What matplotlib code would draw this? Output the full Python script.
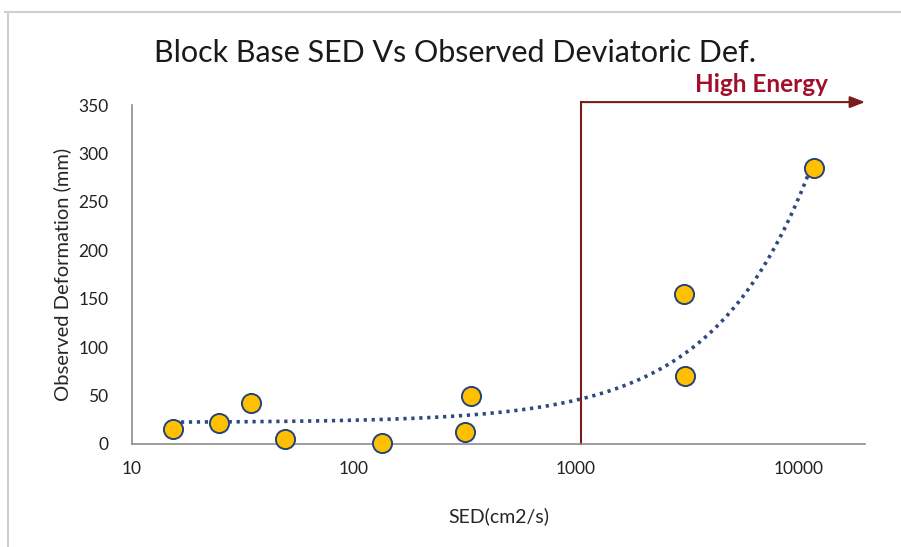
import numpy as np
import matplotlib
matplotlib.use("Agg")
import matplotlib.pyplot as plt
from matplotlib.lines import Line2D

# Data
sed = [15.3, 24.7, 34.3, 49.0, 133.6, 315, 337, 3050, 3090, 11830]
deformation = [15.5, 21.4, 42.6, 5.5, 0.7, 12.1, 49.9, 154.6, 70.2, 285.3]
x_ticks = [10, 100, 1000, 10000]
x_tick_labels = ["10", "100", "1000", "10000"]
y_ticks = [0, 50, 100, 150, 200, 250, 300, 350]
high_energy_x = 1056
high_energy_y = 353

title = "Block Base SED Vs Observed Deviatoric Def."
xlabel = "SED(cm2/s)"
ylabel = "Observed Deformation (mm)"

plt.rcParams['font.family'] = ['Lato', 'DejaVu Sans']

W, H = 901, 547
fig = plt.figure(figsize=(W / 100, H / 100), dpi=100)
ax = fig.add_axes([132 / W, 1 - 444 / H, (865 - 132) / W, (444 - 105) / H])

x = np.array(sed)
y = np.array(deformation)

# Linear trendline (Excel-style) drawn on the log x axis
b, a = np.polyfit(x, y, 1)
xt = np.logspace(np.log10(x.min()), np.log10(x.max()), 300)
ax.plot(xt, a + b * xt, color='#2E4B7F', lw=2.6, linestyle=(0, (0.9, 1.3)),
        dash_capstyle='butt', zorder=2)

ax.scatter(x, y, s=190, facecolor='#FFC000', edgecolor='#264478', linewidth=1.4,
           zorder=3, clip_on=False)

ax.set_xscale('log')
ax.set_xlim(10, 20000)
ax.set_ylim(0, 350)
ax.set_xticks(x_ticks)
ax.set_xticklabels(x_tick_labels)
ax.set_yticks(y_ticks)
ax.minorticks_off()
ax.tick_params(length=0, labelsize=12.5, colors='#222222', pad=12)
ax.tick_params(axis='y', pad=17)

for side in ['top', 'right']:
    ax.spines[side].set_visible(False)
for side in ['left', 'bottom']:
    ax.spines[side].set_color('#8C8C8C')
    ax.spines[side].set_linewidth(1.2)

ax.set_xlabel(xlabel, fontsize=14, color='#262626', labelpad=22)
ax.set_ylabel(ylabel, fontsize=14.5, color='#262626', labelpad=5)

fig.text(455 / W, 1 - 53 / H, title, fontsize=22, color='#1a1a1a',
         ha='center', va='center', fontweight='normal')

# High energy marker: vertical line + arrow
ax.plot([high_energy_x, high_energy_x], [0, high_energy_y], color='#7B1C1C', lw=1.5,
        clip_on=False, zorder=1)
ax.annotate('', xy=(20000, high_energy_y), xytext=(high_energy_x, high_energy_y),
            xycoords='data', annotation_clip=False,
            arrowprops=dict(arrowstyle='-|>,head_length=0.9,head_width=0.35',
                            color='#7B1C1C', lw=1.5, shrinkA=0, shrinkB=0))
fig.text(828 / W, 1 - 84 / H, "High Energy", fontsize=17.5, fontweight='bold',
         color='#A0102A', ha='right', va='center')

# Frame lines of the chart area (top and left visible)
fig.add_artist(Line2D([5 / W, 1], [1 - 12 / H, 1 - 12 / H], color='#D0D0D0', lw=1.5,
                      transform=fig.transFigure))
fig.add_artist(Line2D([8 / W, 8 / W], [0, 1 - 12 / H], color='#D0D0D0', lw=1.5,
                      transform=fig.transFigure))

fig.savefig('out.png', dpi=100)
